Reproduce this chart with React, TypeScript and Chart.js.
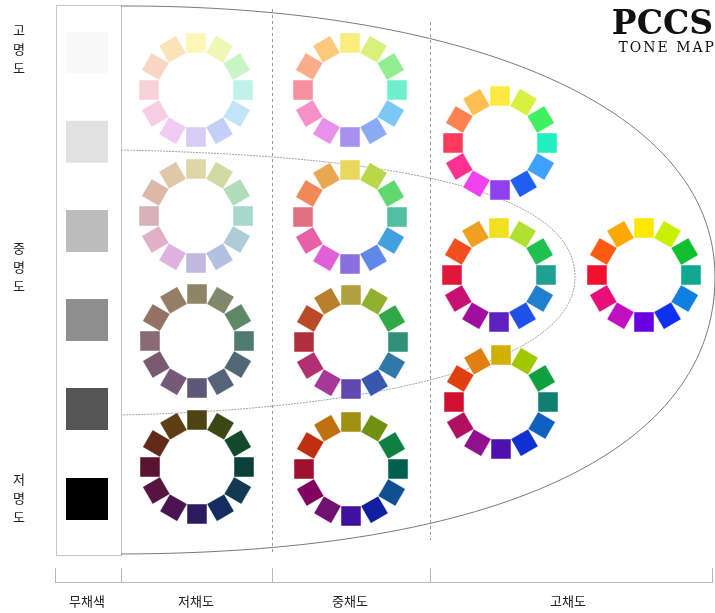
import React, { useEffect, useRef } from "react";
import { Chart, registerables } from "chart.js";

Chart.register(...registerables);

// ---- data ----
const toneNames = ["p", "ltg", "g", "dkg", "lt", "sf", "d", "dk", "b", "s", "dp", "v"];
const toneX = [196, 196, 197, 197, 350, 350, 351, 351, 500, 499, 501, 644];
const toneY = [90, 216, 341, 467, 90, 217, 342, 469, 143, 275, 402, 275];

// hues ordered clockwise from 9 o'clock
const pale = ["#f7d3d9", "#f9d6c3", "#fbe3b8", "#fdf6b6", "#eef8b4", "#c9f5c4", "#bff3ea", "#c3e3f8", "#c4cff8", "#d6ccf6", "#f2cbf4", "#f7cde4"];
const lightGrayish = ["#d8b0b8", "#dcb8a8", "#dfc8a8", "#ddd6a8", "#d0dba2", "#b0dcb8", "#a8d6c8", "#b0cbd8", "#b4c0df", "#c0b8df", "#dfb2df", "#dfb0c8"];
const grayish = ["#8a6a74", "#957064", "#957f64", "#8f8566", "#80876a", "#5e8868", "#4f7a70", "#506876", "#56637a", "#5e5878", "#74597a", "#7a5a70"];
const darkGrayish = ["#5a1432", "#62281a", "#5e3e12", "#4e4412", "#3c4814", "#134a2c", "#0c403a", "#123a52", "#142c5e", "#2c1c5e", "#4a1450", "#561440"];
const light = ["#f7909e", "#fbac8a", "#fcc879", "#fbec7e", "#d9f07a", "#90ee90", "#70eed0", "#7cc8f4", "#8aaaf4", "#a890f0", "#e890ea", "#f590c8"];
const soft = ["#e07080", "#f08858", "#e8a850", "#e8d860", "#b8d848", "#60d870", "#50c0a0", "#40a0e0", "#6088e8", "#8870e0", "#e060d8", "#e860a8"];
const dull = ["#b03040", "#b84a28", "#b88028", "#b0a040", "#90b030", "#30a848", "#309078", "#3078a8", "#3858b0", "#6048b0", "#a83898", "#b03070"];
const dark = ["#a01030", "#c03010", "#c07010", "#a09010", "#709010", "#108040", "#006050", "#105090", "#1020a0", "#4010a0", "#701070", "#800060"];
const bright = ["#ff3a5a", "#ff8050", "#ffc050", "#ffe840", "#d8f040", "#40f060", "#20f0c0", "#40a0ff", "#2060f0", "#9040f0", "#f040f0", "#ff3090"];
const strong = ["#e01838", "#f05020", "#f0a020", "#f0e020", "#b0e030", "#20c050", "#20a090", "#2080d0", "#2050e8", "#6020c0", "#a010a0", "#c81070"];
const deep = ["#d01030", "#e04010", "#e08010", "#d0b000", "#a0c800", "#10a040", "#108070", "#1060c0", "#1030d0", "#5010b0", "#901090", "#b01060"];
const vivid = ["#f01030", "#ff5a10", "#ffa800", "#ffe800", "#c8f000", "#10c030", "#10a890", "#1080e0", "#1030f0", "#6a00e0", "#c010c0", "#e81078"];
const toneColors = [pale, lightGrayish, grayish, darkGrayish, light, soft, dull, dark, bright, strong, deep, vivid];

const grayColors = ["#f9f9f9", "#e1e1e1", "#bcbcbc", "#8e8e8e", "#555555", "#000000"];
const grayX = [87, 87, 87, 87, 87, 87];
const grayY = [52.5, 141.7, 231, 320, 409, 499];

const bottomLabels = ["무채색", "저채도", "중채도", "고채도"];
const bottomLabelX = [87, 196, 350, 568];
const sideLabels = ["고명도", "중명도", "저명도"];
const sideLabelY = [49, 267, 498];

const W = 715;
const H = 613;
const WHEEL_R = 47;

const decor = {
  id: "decor",
  beforeDatasetsDraw(chart: any) {
    const ctx = chart.ctx;
    const xs = chart.scales.x;
    const ys = chart.scales.y;
    const px = (v: number) => xs.getPixelForValue(v);
    const py = (v: number) => ys.getPixelForValue(v);
    ctx.save();
    // gray column box
    ctx.strokeStyle = "#8a8a8a";
    ctx.lineWidth = 1;
    ctx.setLineDash([1, 1]);
    ctx.strokeRect(px(56) + 0.5, py(5) + 0.5, px(121) - px(56), py(555) - py(5));
    // vertical dashed lines
    ctx.strokeStyle = "#9a9a9a";
    ctx.setLineDash([3, 3]);
    ctx.beginPath();
    ctx.moveTo(px(272) + 0.5, py(9));
    ctx.lineTo(px(272) + 0.5, py(553));
    ctx.moveTo(px(430) + 0.5, py(22));
    ctx.lineTo(px(430) + 0.5, py(540));
    ctx.stroke();
    // outer shape
    ctx.setLineDash([]);
    ctx.strokeStyle = "#6a6a6a";
    ctx.lineWidth = 0.9;
    ctx.beginPath();
    ctx.moveTo(px(121), py(6));
    ctx.bezierCurveTo(px(450), py(5), px(715), py(100), px(715), py(277));
    ctx.bezierCurveTo(px(715), py(450), px(500), py(553), px(121), py(554));
    ctx.stroke();
    // inner curve
    ctx.strokeStyle = "#8a8a8a";
    ctx.lineWidth = 0.8;
    ctx.setLineDash([2, 1]);
    ctx.beginPath();
    ctx.moveTo(px(121), py(150));
    ctx.bezierCurveTo(px(350), py(155), px(575), py(180), px(575), py(277));
    ctx.bezierCurveTo(px(575), py(370), px(350), py(410), px(121), py(415));
    ctx.stroke();
    // bottom axis
    ctx.setLineDash([]);
    ctx.strokeStyle = "#b8b8b8";
    ctx.lineWidth = 1;
    ctx.beginPath();
    ctx.moveTo(px(55), py(582) + 0.5);
    ctx.lineTo(px(713), py(582) + 0.5);
    [55, 121, 272, 430, 712].forEach((t) => {
      ctx.moveTo(px(t) + 0.5, py(568));
      ctx.lineTo(px(t) + 0.5, py(582));
    });
    ctx.stroke();
    ctx.restore();
  },
  afterDatasetsDraw(chart: any) {
    const ctx = chart.ctx;
    const xs = chart.scales.x;
    const ys = chart.scales.y;
    const px = (v: number) => xs.getPixelForValue(v);
    const py = (v: number) => ys.getPixelForValue(v);
    ctx.save();
    ctx.fillStyle = "#222";
    ctx.textAlign = "center";
    ctx.textBaseline = "middle";
    ctx.font = "13px 'Noto Sans CJK KR'";
    bottomLabels.forEach((l, i) => ctx.fillText(l, px(bottomLabelX[i]), py(601)));
    sideLabels.forEach((l, i) => {
      const chars = Array.from(l);
      chars.forEach((c, j) => ctx.fillText(c, px(19), py(sideLabelY[i] + (j - 1) * 19)));
    });
    // title
    ctx.fillStyle = "#111";
    ctx.textAlign = "right";
    ctx.font = "bold 33px 'DejaVu Serif'";
    ctx.fillText("PCCS", px(713), py(25));
    ctx.font = "14px 'DejaVu Serif'";
    (ctx as any).letterSpacing = "2px";
    ctx.fillText("TONE MAP", px(716), py(48));
    ctx.restore();
  },
};

export default function App() {
  const ref = useRef<HTMLCanvasElement | null>(null);
  useEffect(() => {
    if (!ref.current) return;
    const datasets: any[] = toneNames.map((name, t) => {
      const pts = toneColors[t].map((_, i) => {
        const a = ((180 + 30 * i) * Math.PI) / 180;
        return { x: toneX[t] + WHEEL_R * Math.cos(a), y: toneY[t] + WHEEL_R * Math.sin(a) };
      });
      return {
        label: name,
        data: pts,
        pointStyle: "rect",
        pointRadius: 14,
        pointRotation: toneColors[t].map((_, i) => 180 + 30 * i),
        pointBackgroundColor: toneColors[t],
        pointBorderColor: "rgba(255,255,255,0.5)",
        pointBorderWidth: 0.5,
        showLine: false,
        clip: false,
      };
    });
    datasets.push({
      label: "무채색",
      data: grayX.map((x, i) => ({ x, y: grayY[i] })),
      pointStyle: "rect",
      pointRadius: 29.7,
      pointRotation: 0,
      pointBackgroundColor: grayColors,
      pointBorderColor: "rgba(0,0,0,0)",
      pointBorderWidth: 0,
      showLine: false,
      clip: false,
    });
    const chart = new Chart(ref.current, {
      type: "scatter",
      data: { datasets },
      options: {
        animation: false,
        responsive: false,
        maintainAspectRatio: false,
        events: [],
        layout: { padding: 0, autoPadding: false },
        plugins: { legend: { display: false }, tooltip: { enabled: false } },
        scales: {
          x: { type: "linear", min: 0, max: W, display: false },
          y: { type: "linear", min: 0, max: H, reverse: true, display: false },
        },
      },
      plugins: [decor],
    });
    return () => chart.destroy();
  }, []);
  return (
    <div style={{ position: "fixed", left: 0, top: 0, width: W, height: H, background: "#fff" }}>
      <canvas ref={ref} width={W} height={H} style={{ width: W, height: H, display: "block" }} />
    </div>
  );
}
